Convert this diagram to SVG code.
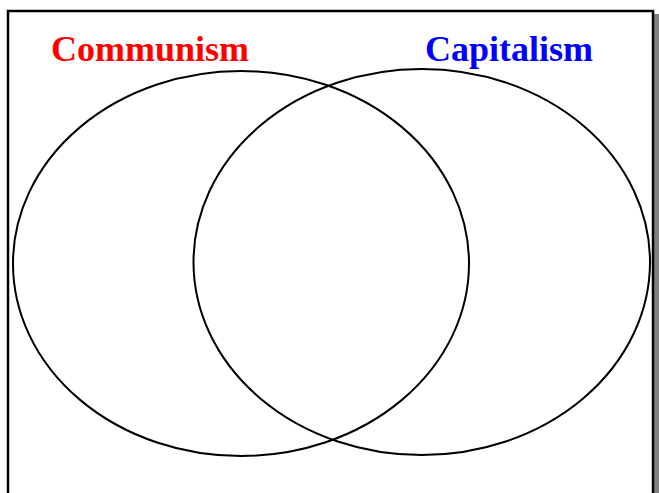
<svg xmlns="http://www.w3.org/2000/svg" width="659" height="493" viewBox="0 0 659 493">
  <style>
    .frame { fill: #ffffff; stroke: #000000; stroke-width: 2.5; }
    .shadow { fill: #808080; }
    .set { fill: none; stroke: #000000; stroke-width: 2; }
    .label { font-family: "Liberation Serif", "Times New Roman", serif; font-weight: bold; font-size: 36px; }
  </style>
  <rect width="659" height="493" fill="#ffffff"/>
  <rect class="shadow" x="654" y="14" width="5" height="479"/>
  <rect class="frame" x="8" y="11" width="645" height="490"/>
  <g id="communism">
    <ellipse class="set" cx="241" cy="263.5" rx="228" ry="192.5"/>
    <text class="label" x="51" y="61" fill="#ff0000">Communism</text>
  </g>
  <g id="capitalism">
    <ellipse class="set" cx="421.75" cy="262" rx="228.25" ry="193"/>
    <text class="label" x="425" y="61" fill="#0000ff">Capitalism</text>
  </g>
  <g id="connectors"></g>
</svg>
